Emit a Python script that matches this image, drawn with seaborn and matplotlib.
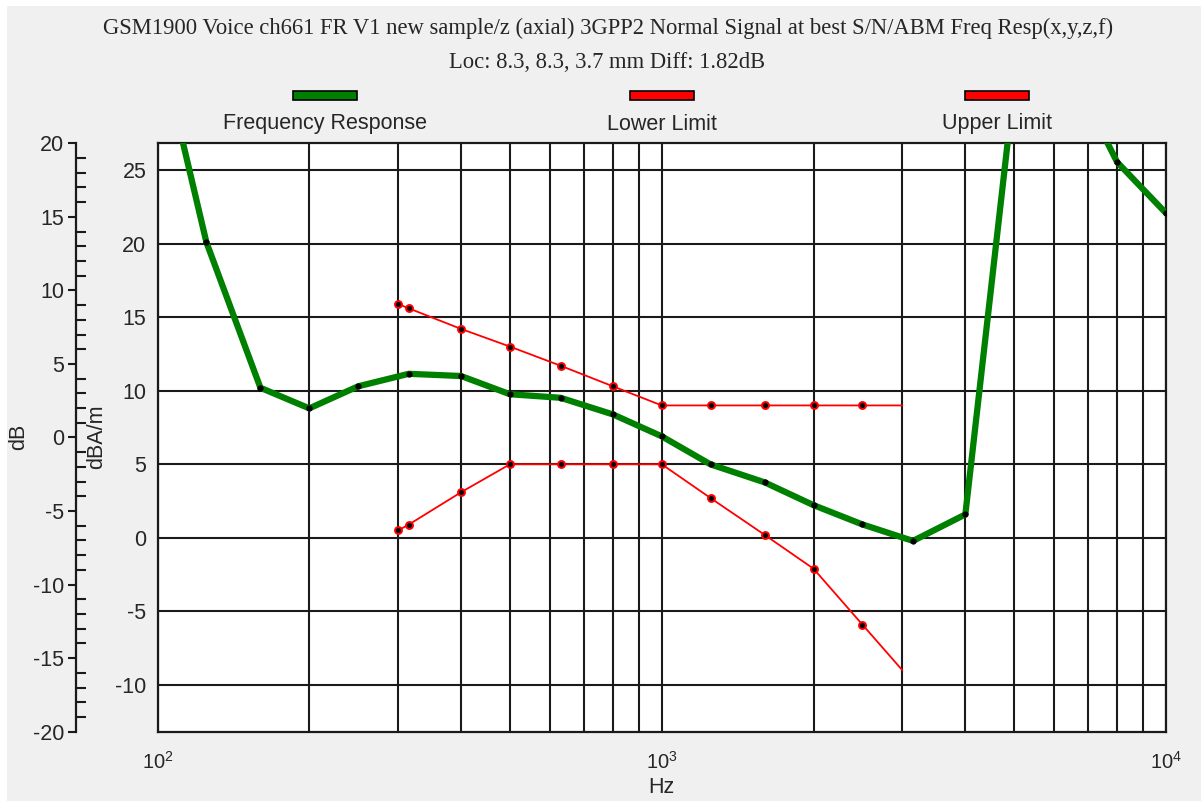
import matplotlib
matplotlib.use('Agg')
import matplotlib.pyplot as plt
import seaborn as sns
import pandas as pd
import numpy as np
from matplotlib.patches import Rectangle
from matplotlib.ticker import MultipleLocator, LogLocator, NullFormatter

# values (dBA/m on the inner axis)
freq_resp_hz = [100, 125, 160, 200, 250, 315, 400, 500, 630, 800, 1000, 1250,
                1600, 2000, 2500, 3150, 4000, 5000, 6300, 8000, 10000]
freq_resp_db = [34.2, 20.1, 10.2, 8.8, 10.3, 11.15, 11.0, 9.76, 9.52, 8.39, 6.9, 4.99,
                3.77, 2.22, 0.91, -0.21, 1.59, 30.8, 32.6, 25.54, 22.07]

limit_hz = [300, 315, 400, 500, 630, 800, 1000, 1250, 1600, 2000, 2500, 3000]
upper_db = [15.9, 15.6, 14.2, 13.0, 11.7, 10.3, 9.0, 9.0, 9.0, 9.0, 9.0, 9.0]
lower_db = [0.5, 0.9, 3.1, 5.0, 5.0, 5.0, 5.0, 2.7, 0.2, -2.1, -5.9, -9.0]

title_1 = 'GSM1900 Voice ch661 FR V1 new sample/z (axial) 3GPP2 Normal Signal at best S/N/ABM Freq Resp(x,y,z,f)'
title_2 = 'Loc: 8.3, 8.3, 3.7 mm Diff: 1.82dB'
legend_names = ['Frequency Response', 'Lower Limit', 'Upper Limit']
db_offset = 6.82   # dB = dBA/m - offset

sns.set_style("white")
plt.rcParams['font.family'] = ['Liberation Sans', 'DejaVu Sans']
plt.rcParams['mathtext.default'] = 'regular'
plt.rcParams['axes.unicode_minus'] = False

FS = 15.5
W, H = 1201, 801
fig = plt.figure(figsize=(W / 100, H / 100), dpi=100, facecolor='white')
fig.add_artist(Rectangle((7 / W, 0), 1, 1 - 6 / H, transform=fig.transFigure,
                         facecolor='#f0f0f0', edgecolor='none', zorder=-10))

left, right, top, bottom = 157.5, 1166, 143.3, 731.7
ax = fig.add_axes([left / W, 1 - bottom / H, (right - left) / W, (bottom - top) / H])
ax.set_facecolor('white')

resp = pd.DataFrame({'Hz': freq_resp_hz, 'dBA/m': freq_resp_db})
lim = pd.DataFrame({'Hz': limit_hz, 'upper': upper_db, 'lower': lower_db})

for col in ['upper', 'lower']:
    sns.lineplot(data=lim, x='Hz', y=col, ax=ax, color='red', lw=1.3, zorder=3)
    ax.plot(lim['Hz'][:-1], lim[col][:-1], ls='none', marker='o', ms=5,
            mfc='black', mec='red', mew=1.4, zorder=4)

sns.lineplot(data=resp, x='Hz', y='dBA/m', ax=ax, color='#008000', lw=4.5, zorder=5)
ax.plot(resp['Hz'], resp['dBA/m'], ls='none', marker='o', ms=3.5,
        mfc='black', mec='black', zorder=6)

ax.set_xscale('log')
ax.set_xlim(100, 10000)
ax.set_ylim(-13.18, 26.82)

ax.xaxis.set_major_locator(LogLocator(base=10))
ax.xaxis.set_minor_locator(LogLocator(base=10, subs=np.arange(2, 10)))
ax.xaxis.set_minor_formatter(NullFormatter())
ax.yaxis.set_major_locator(MultipleLocator(5))
ax.yaxis.set_minor_locator(MultipleLocator(1))

ax.grid(which='both', axis='x', color='#1a1a1a', lw=1.5)
ax.grid(which='major', axis='y', color='#1a1a1a', lw=1.5)
ax.set_axisbelow(True)
for s in ax.spines.values():
    s.set_color('#1a1a1a')
    s.set_linewidth(1.6)

ax.tick_params(axis='x', which='major', direction='out', length=11, width=1.5,
               color='#1a1a1a', labelsize=14.5, pad=3)
ax.tick_params(axis='x', which='minor', length=0)
ax.tick_params(axis='y', which='major', direction='out', length=6, width=1.5,
               color='#1a1a1a', labelsize=FS, pad=2)
ax.tick_params(axis='y', which='minor', direction='in', length=7, width=1.5,
               color='#1a1a1a')
ax.set_xlabel('Hz', fontsize=FS, labelpad=3)
ax.set_ylabel('')

sec = ax.secondary_yaxis((75.5 - left) / (right - left),
                         functions=(lambda v: v - db_offset, lambda v: v + db_offset))
sec.xaxis.set_visible(False)
sec.yaxis.set_major_locator(MultipleLocator(5))
sec.yaxis.set_minor_locator(MultipleLocator(1))
sec.spines['left'].set_linewidth(1.6)
sec.spines['left'].set_color('#1a1a1a')
sec.tick_params(which='major', direction='out', length=6, width=1.5,
                color='#1a1a1a', labelsize=FS, pad=2)
sec.tick_params(which='minor', direction='in', length=7, width=1.5, color='#1a1a1a')

fig.text(19 / W, 1 - 437 / H, 'dB', rotation=90, ha='center', va='center', fontsize=FS)
fig.text(97 / W, 1 - 437 / H, 'dBA/m', rotation=90, ha='center', va='center', fontsize=FS)

fig.text(608 / W, 1 - 28 / H, title_1, ha='center', va='center', fontsize=16.3,
         family=['Liberation Serif', 'DejaVu Serif'])
fig.text(607 / W, 1 - 62 / H, title_2, ha='center', va='center', fontsize=16.3,
         family=['Liberation Serif', 'DejaVu Serif'])

legend_colors = ['#008000', 'red', 'red']
legend_x = [325, 662, 997]
for name, c, cx in zip(legend_names, legend_colors, legend_x):
    fig.add_artist(Rectangle(((cx - 32) / W, 1 - 100 / H), 64 / W, 9 / H,
                             transform=fig.transFigure, facecolor=c,
                             edgecolor='black', lw=1.2))
    fig.text(cx / W, 1 - 124 / H, name, ha='center', va='center', fontsize=FS)

fig.savefig('out.png', dpi=100, facecolor=fig.get_facecolor())
